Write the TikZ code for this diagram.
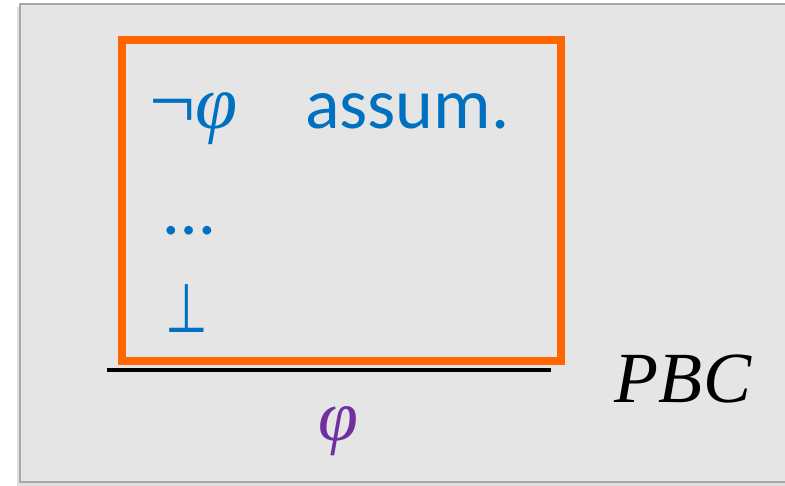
\documentclass[tikz,border=0pt]{standalone}
\usepackage{fix-cm}
\usepackage{graphicx}
\usepackage{fontspec}
\setmainfont{Carlito}
\newfontfamily\serifmath{Liberation Serif}
\newfontfamily\symsans{DejaVu Sans}
\definecolor{bgfill}{HTML}{E5E5E5}
\definecolor{bgline}{HTML}{A8A8A8}
\definecolor{boxorange}{HTML}{FF6600}
\definecolor{txtblue}{HTML}{0070C0}
\definecolor{txtpurple}{HTML}{7030A0}
\tikzset{
  big/.style={font=\fontsize{72}{80}\selectfont, inner sep=0pt, outer sep=0pt},
  bluetxt/.style={big, text=txtblue, anchor=base west},
}
\begin{document}
\begin{tikzpicture}[x=1pt,y=-1pt]
\useasboundingbox (0,0) rectangle (785,485);
% shadow
\fill[black!12] (17,7) rectangle (790,486);
\filldraw[fill=bgfill, draw=bgline, line width=2pt] (20,4) rectangle (800,482);
% box
\node[draw=boxorange, line width=8pt, minimum width=439pt, minimum height=321pt, inner sep=0pt] (box) at (341.5,200) {};
\coordinate (rl) at (107,370);
\coordinate (rr) at (551,370);
\draw[line width=4pt, black] (rl) -- (rr);
\node[bluetxt] (neg) at (149,128) {{\serifmath\fontsize{82}{90}\selectfont ¬}{\serifmath\itshape\fontsize{76}{84}\selectfont φ}};
\node[bluetxt] (assum) at (305,128) {assum.};
\node[bluetxt] (dots) at (164,234) {…};
\node[bluetxt] (bot) at (165,332) {\symsans\scalebox{0.68}[0.95]{⊥}};
\node[big, text=txtpurple, anchor=base] (concl) at (338,440) {\serifmath\itshape φ};
\node[big, anchor=base west] (rule) at (614,402) {\serifmath\itshape P\kern1pt B\kern1pt C};
\end{tikzpicture}
\end{document}
